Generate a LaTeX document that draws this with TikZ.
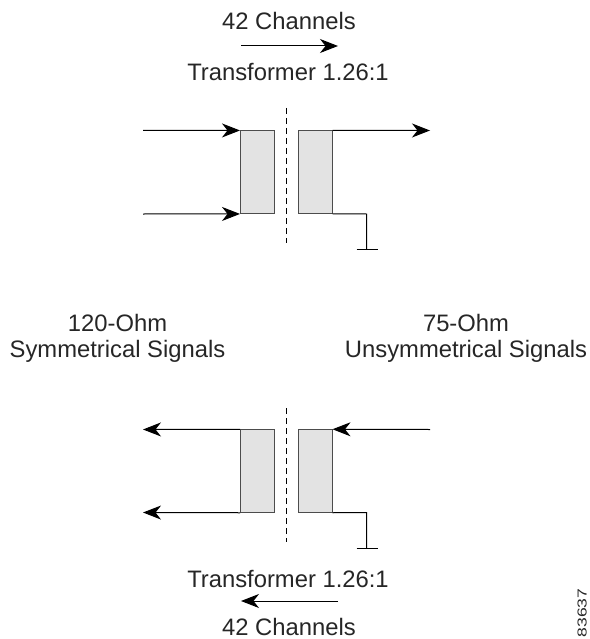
\documentclass[tikz,border=0pt]{standalone}
\usepackage{fontspec}
\setmainfont{Liberation Sans}
\usetikzlibrary{arrows.meta}
\tikzset{
  x=1pt,y=-1pt,
  core/.style={draw=black!70,fill=black!11,line width=1pt,minimum width=34pt,minimum height=83.5pt,inner sep=0pt,outer sep=0pt},
  wire/.style={draw=black,line width=1pt},
  sig/.style={wire,-{Stealth[length=18pt,width=14pt,inset=5.5pt]}},
  iso/.style={draw=black,line width=1pt,dash pattern=on 6pt off 4pt},
  lbl/.style={font=\fontsize{23.8}{26}\selectfont,text=black!85,inner sep=0pt,anchor=base},
}
\begin{document}
\begin{tikzpicture}
\useasboundingbox (0,0) rectangle (589,639);
% labels
\node[lbl] (ch1) at (289,30) {42 Channels};
\node[lbl] (tr1) at (288,81) {Transformer 1.26:1};
\node[lbl] (o1a) at (117.5,331) {120-Ohm};
\node[lbl] (o1b) at (117.5,357) {Symmetrical Signals};
\node[lbl] (o2a) at (466,331) {75-Ohm};
\node[lbl] (o2b) at (466,357) {Unsymmetrical Signals};
\node[lbl] (tr2) at (288,587) {Transformer 1.26:1};
\node[lbl] (ch2) at (289,635) {42 Channels};
% top transformer
\node[core] (tl) at (257,172.2) {};
\node[core] (tr) at (315.5,172.2) {};
\coordinate (ta1) at (143,130.5);
\coordinate (ta2) at (143,214);
\coordinate (ta3) at (430,130.5);
\coordinate (td1) at (286.5,108);
\coordinate (td2) at (286.5,243);
\coordinate (tg1) at (366.5,214);
\coordinate (tg2) at (366.5,249);
\coordinate (tg3) at (356.5,249);
\coordinate (tg4) at (377.5,249);
\coordinate (tm1) at (241,46);
\coordinate (tm2) at (338,46);
\draw[sig] (ta1) -- (tl.north west);
\draw[sig] (ta2) -- (tl.south west);
\draw[sig] (tr.north east) -- (ta3);
\draw[iso] (td1) -- (td2);
\draw[wire] (tr.south east) -- (tg1) -- (tg2);
\draw[wire] (tg3) -- (tg4);
\draw[sig] (tm1) -- (tm2);
% bottom transformer
\node[core] (bl) at (257,471) {};
\node[core] (br) at (315.5,471) {};
\coordinate (ba1) at (143,429.5);
\coordinate (ba2) at (143,512.5);
\coordinate (ba3) at (430,429.5);
\coordinate (bd1) at (286.5,408);
\coordinate (bd2) at (286.5,542);
\coordinate (bg1) at (366.5,512.5);
\coordinate (bg2) at (366.5,548);
\coordinate (bg3) at (356.5,548);
\coordinate (bg4) at (377.5,548);
\coordinate (bm1) at (338,601);
\coordinate (bm2) at (241,601);
\draw[sig] (bl.north west) -- (ba1);
\draw[sig] (bl.south west) -- (ba2);
\draw[sig] (ba3) -- (br.north east);
\draw[iso] (bd1) -- (bd2);
\draw[wire] (br.south east) -- (bg1) -- (bg2);
\draw[wire] (bg3) -- (bg4);
\draw[sig] (bm1) -- (bm2);
\node[rotate=90,anchor=base west,font=\fontsize{13}{14}\selectfont,inner sep=0pt,text=black!85] (idn) at (586.5,637.5) {\scalebox{1.35}[1]{83637}};
\end{tikzpicture}
\end{document}
